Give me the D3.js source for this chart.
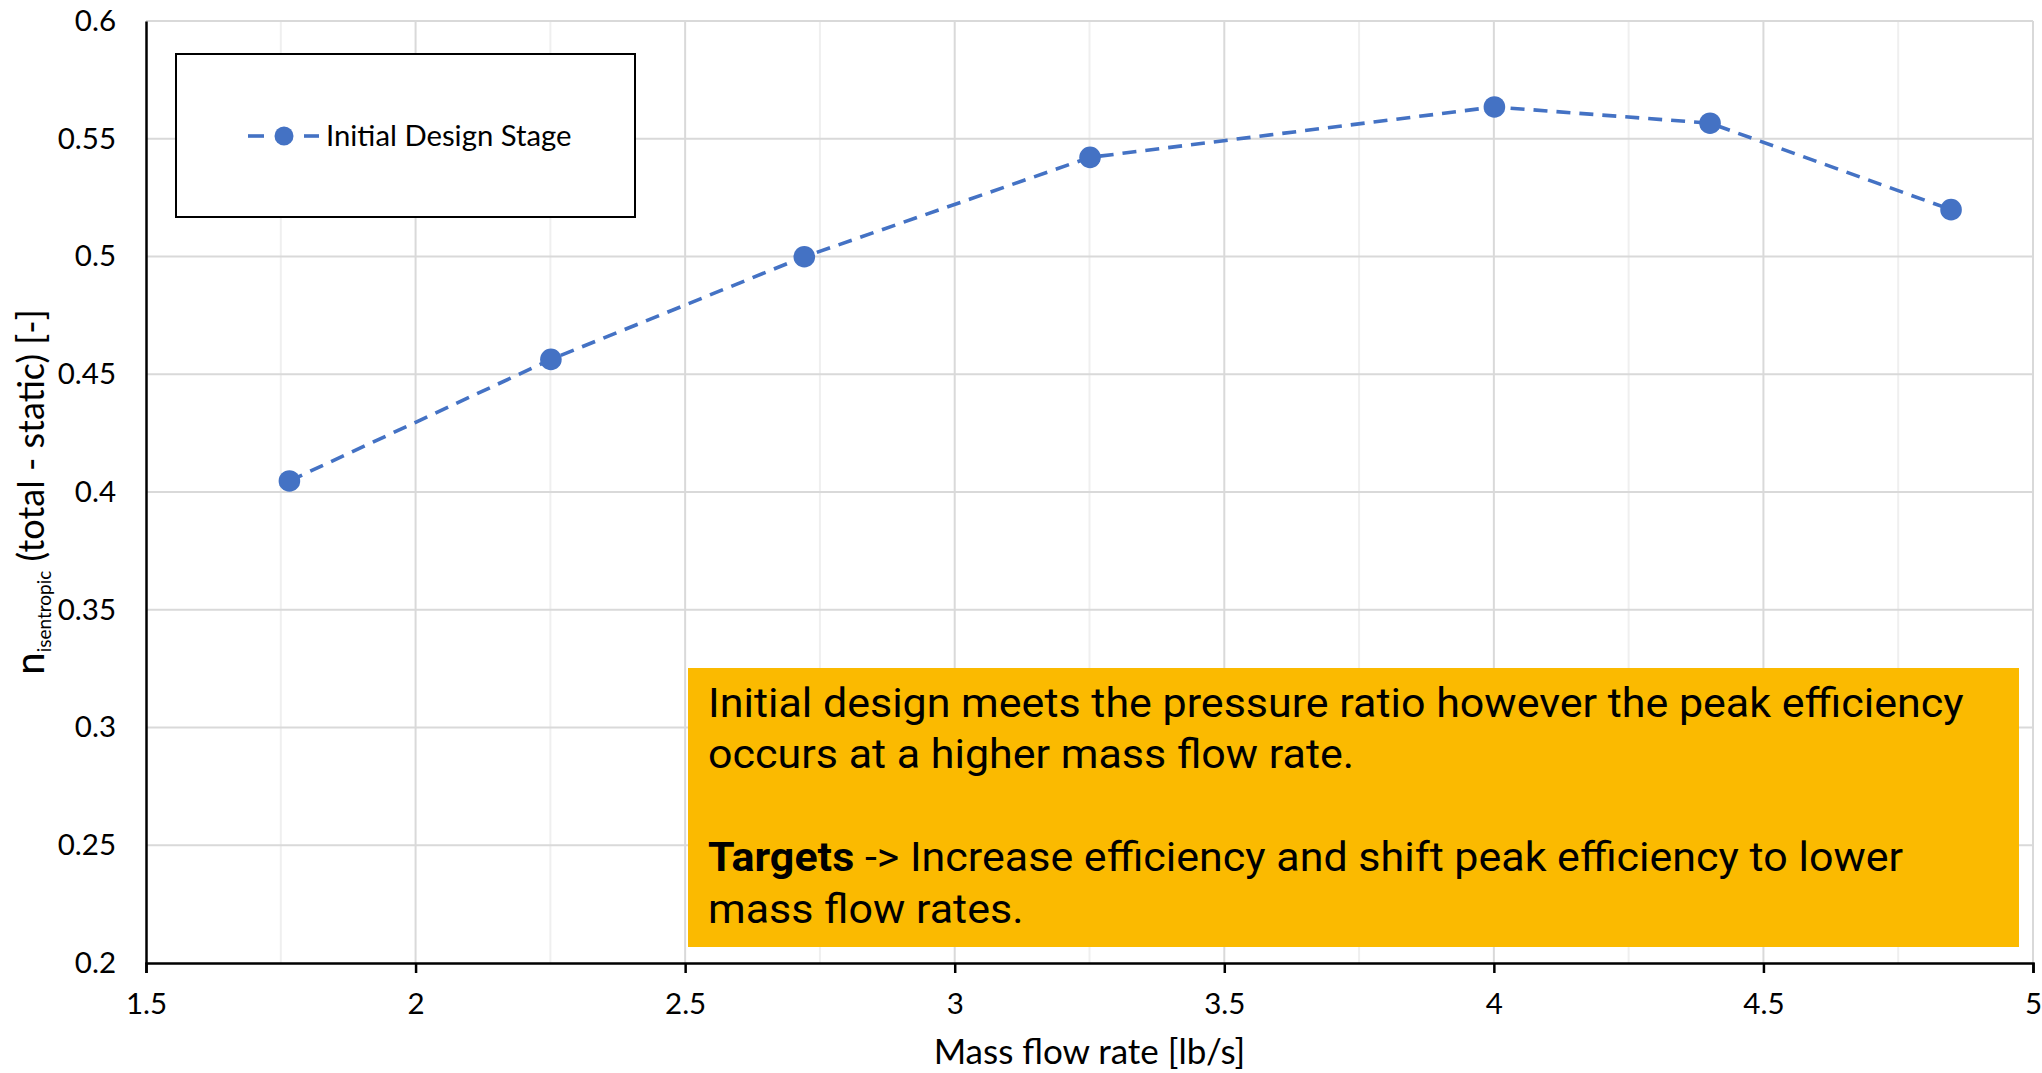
<!DOCTYPE html>
<html>
<head>
<meta charset="utf-8">
<script src="https://cdn.jsdelivr.net/npm/d3@7"></script>
<style>
  html, body { margin: 0; padding: 0; background: #fff; }
  svg { display: block; }
</style>
</head>
<body>
<script>
// Stage performance: isentropic efficiency vs mass flow rate
const massFlow   = [1.766, 2.251, 2.721, 3.251, 4.001, 4.401, 4.848];
const efficiency = [0.4047, 0.4563, 0.4999, 0.5421, 0.5635, 0.5566, 0.5199];
const seriesName = "Initial Design Stage";

const xTicks = [1.5, 2, 2.5, 3, 3.5, 4, 4.5, 5];
const xMinorTicks = [1.75, 2.25, 2.75, 3.25, 3.75, 4.25, 4.75];
const yTicks = [0.2, 0.25, 0.3, 0.35, 0.4, 0.45, 0.5, 0.55, 0.6];

const noteLines = [
  [{ t: "Initial design meets the pressure ratio however the peak efficiency", b: false }],
  [{ t: "occurs at a higher mass flow rate.", b: false }],
  [],
  [{ t: "Targets", b: true }, { t: " -> Increase efficiency and shift peak efficiency to lower", b: false }],
  [{ t: "mass flow rates.", b: false }]
];

const W = 2042, H = 1073;
const plot = { left: 146, right: 2033, top: 21, bottom: 963 };
const axisFont = "Lato, 'Open Sans', sans-serif";
const blue = "#4472C4";

const svg = d3.select("body").append("svg")
  .attr("width", W).attr("height", H)
  .attr("viewBox", `0 0 ${W} ${H}`);

const x = d3.scaleLinear().domain([1.5, 5]).range([plot.left, plot.right]);
const y = d3.scaleLinear().domain([0.2, 0.6]).range([plot.bottom, plot.top]);

// Gridlines
const grid = svg.append("g");
grid.selectAll("line.minor").data(xMinorTicks).join("line")
  .attr("class", "minor")
  .attr("x1", d => x(d)).attr("x2", d => x(d))
  .attr("y1", plot.top).attr("y2", plot.bottom)
  .attr("stroke", "#efefef").attr("stroke-width", 2);
grid.selectAll("line.vmajor").data(xTicks.slice(1)).join("line")
  .attr("class", "vmajor")
  .attr("x1", d => x(d)).attr("x2", d => x(d))
  .attr("y1", plot.top).attr("y2", plot.bottom)
  .attr("stroke", "#d9d9d9").attr("stroke-width", 2);
grid.selectAll("line.hmajor").data(yTicks.slice(1)).join("line")
  .attr("class", "hmajor")
  .attr("x1", plot.left).attr("x2", plot.right)
  .attr("y1", d => y(d)).attr("y2", d => y(d))
  .attr("stroke", "#d9d9d9").attr("stroke-width", 2);

// Axes
const xAxis = d3.axisBottom(x).tickValues(xTicks).tickSize(10).tickPadding(20)
  .tickFormat(d3.format("~g"));
const gx = svg.append("g").attr("transform", `translate(0,${plot.bottom})`).call(xAxis);
gx.select(".domain").attr("stroke", "#000").attr("stroke-width", 2.5);
gx.selectAll(".tick line").attr("stroke", "#000").attr("stroke-width", 2.5);
gx.selectAll(".tick text").attr("font-family", axisFont).attr("font-size", 29.5).attr("fill", "#000");

const yAxis = d3.axisLeft(y).tickValues(yTicks).tickSize(0).tickPadding(30)
  .tickFormat(d3.format("~g"));
const gy = svg.append("g").attr("transform", `translate(${plot.left},0)`).call(yAxis);
gy.select(".domain").attr("stroke", "#000").attr("stroke-width", 2.5);
gy.selectAll(".tick text").attr("font-family", axisFont).attr("font-size", 29.5).attr("fill", "#000");

// Axis titles
svg.append("text")
  .attr("x", (plot.left + plot.right) / 2).attr("y", 1064)
  .attr("text-anchor", "middle")
  .attr("font-family", axisFont).attr("font-size", 35).attr("fill", "#000")
  .text("Mass flow rate [lb/s]");

const yTitle = svg.append("text")
  .attr("transform", `translate(44,492) rotate(-90)`)
  .attr("text-anchor", "middle")
  .attr("font-family", axisFont).attr("font-size", 36).attr("fill", "#000");
yTitle.append("tspan").attr("font-size", 40).text("n");
yTitle.append("tspan").attr("font-size", 19).attr("dy", 7).text("isentropic");
yTitle.append("tspan").attr("dy", -7).text(" (total - static) [-]");

// Series
const pts = massFlow.map((m, i) => [m, efficiency[i]]);
const line = d3.line().x(d => x(d[0])).y(d => y(d[1]));
svg.append("path")
  .datum(pts)
  .attr("d", line)
  .attr("fill", "none")
  .attr("stroke", blue)
  .attr("stroke-width", 3.6)
  .attr("stroke-dasharray", "14,9");
svg.selectAll("circle.pt").data(pts).join("circle")
  .attr("class", "pt")
  .attr("cx", d => x(d[0])).attr("cy", d => y(d[1]))
  .attr("r", 10.8)
  .attr("fill", blue);

// Legend
const legend = svg.append("g");
legend.append("rect")
  .attr("x", 176).attr("y", 54).attr("width", 459).attr("height", 163)
  .attr("fill", "#fff").attr("stroke", "#000").attr("stroke-width", 2);
legend.append("line").attr("x1", 248).attr("x2", 264).attr("y1", 136).attr("y2", 136)
  .attr("stroke", blue).attr("stroke-width", 3.6);
legend.append("line").attr("x1", 304).attr("x2", 319).attr("y1", 136).attr("y2", 136)
  .attr("stroke", blue).attr("stroke-width", 3.6);
legend.append("circle").attr("cx", 284).attr("cy", 136).attr("r", 9.5).attr("fill", blue);
legend.append("text")
  .attr("x", 326).attr("y", 146)
  .attr("font-family", axisFont).attr("font-size", 29.3).attr("fill", "#000")
  .text(seriesName);

// Annotation box
const note = svg.append("g");
note.append("rect")
  .attr("x", 688).attr("y", 668).attr("width", 1331).attr("height", 279)
  .attr("fill", "#FBBA00");
// Text is set slightly wide, like the slide font it was written in
const noteText = note.append("text")
  .attr("transform", "translate(708,0) scale(1.075,1)")
  .attr("font-family", "Roboto, sans-serif").attr("font-size", 40).attr("fill", "#000");
noteLines.forEach((runs, i) => {
  if (!runs.length) return;
  runs.forEach((r, j) => {
    const ts = noteText.append("tspan").text(r.t)
      .attr("font-weight", r.b ? 700 : 400);
    if (j === 0) ts.attr("x", 0).attr("y", 717 + i * 51.5);
  });
});
</script>
</body>
</html>
